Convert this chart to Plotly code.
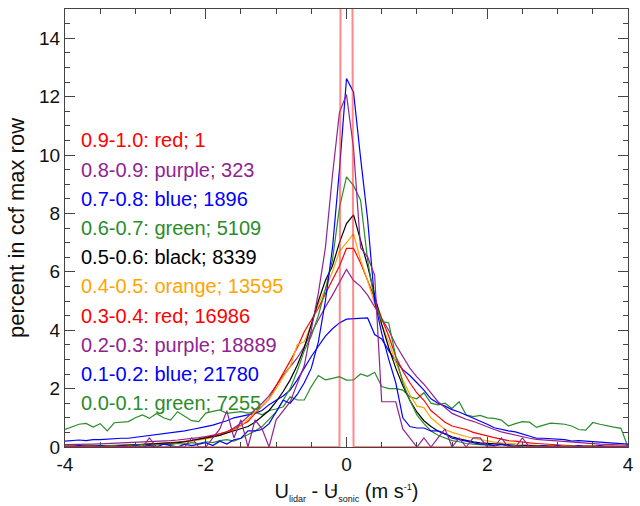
import plotly.graph_objects as go

# bin centres of U_lidar - U_sonic (m/s)
x_bins = [round(-4 + 0.1 * i, 1) for i in range(81)]

labels = ["0.0-0.1: green; 7255", "0.1-0.2: blue; 21780", "0.2-0.3: purple; 18889",
          "0.3-0.4: red; 16986", "0.4-0.5: orange; 13595", "0.5-0.6: black; 8339",
          "0.6-0.7: green; 5109", "0.7-0.8: blue; 1896", "0.8-0.9: purple; 323",
          "0.9-1.0: red; 1"]

g0 = [0.60,0.70,0.78,0.81,0.68,0.80,0.55,0.83,0.85,0.87,
      1.00,1.10,0.98,1.15,1.00,0.92,1.21,1.04,0.90,0.87,
      1.16,1.22,1.27,1.15,1.18,1.21,1.16,1.20,1.10,1.25,
      1.30,1.38,1.72,1.61,1.61,2.07,2.45,2.30,2.35,2.41,
      2.29,2.30,2.50,2.42,2.56,2.07,2.00,2.00,1.95,1.72,
      1.65,1.86,1.50,1.44,1.50,1.32,1.55,1.10,1.04,1.08,
      1.00,0.98,0.92,0.72,0.80,0.87,0.85,0.67,0.75,0.82,
      0.80,0.78,0.72,0.60,0.58,0.84,0.78,0.72,0.68,0.64,
      0.00]
b1 = [0.20,0.22,0.24,0.22,0.25,0.25,0.27,0.28,0.30,0.30,
      0.33,0.36,0.40,0.42,0.46,0.48,0.52,0.55,0.60,0.66,
      0.70,0.75,0.82,0.90,1.00,1.05,1.10,1.15,1.25,1.45,
      1.60,1.75,1.95,2.30,2.70,3.10,3.45,3.80,4.05,4.25,
      4.38,4.40,4.40,4.42,3.85,3.70,3.30,2.95,2.65,2.45,
      2.20,1.95,1.65,1.50,1.40,1.28,1.20,1.10,1.00,0.90,
      0.78,0.66,0.60,0.55,0.52,0.45,0.36,0.30,0.30,0.29,
      0.28,0.25,0.20,0.22,0.20,0.19,0.17,0.15,0.13,0.12,
      0.10]
p2 = [0.08,0.08,0.09,0.10,0.10,0.11,0.12,0.12,0.13,0.14,
      0.15,0.16,0.18,0.19,0.20,0.22,0.24,0.26,0.28,0.32,
      0.36,0.40,0.45,0.52,0.65,0.82,1.04,1.28,1.50,1.75,
      2.10,2.45,2.75,3.05,3.45,3.90,4.40,4.80,5.20,5.65,
      6.08,5.70,5.50,5.20,4.80,4.40,4.00,3.50,3.10,2.70,
      2.40,2.15,1.85,1.55,1.35,1.15,1.05,0.95,0.88,0.78,
      0.68,0.60,0.52,0.46,0.40,0.35,0.30,0.26,0.24,0.22,
      0.20,0.18,0.16,0.15,0.13,0.12,0.10,0.09,0.08,0.07,
      0.06]
r3 = [0.03,0.03,0.04,0.04,0.04,0.05,0.05,0.06,0.06,0.07,
      0.08,0.09,0.10,0.11,0.12,0.15,0.17,0.19,0.22,0.27,
      0.32,0.38,0.45,0.52,0.62,0.75,0.87,1.15,1.40,1.65,
      2.10,2.50,2.95,3.40,3.95,4.35,4.75,5.25,5.70,6.20,
      6.80,6.80,6.30,5.70,5.10,4.40,3.80,3.10,2.60,2.20,
      1.85,1.60,1.25,1.05,0.85,0.72,0.66,0.60,0.50,0.45,
      0.38,0.32,0.26,0.22,0.20,0.16,0.14,0.12,0.10,0.08,
      0.06,0.06,0.05,0.05,0.04,0.04,0.03,0.03,0.03,0.02,
      0.02]
o4 = [0.02,0.02,0.02,0.03,0.03,0.03,0.04,0.04,0.05,0.05,
      0.06,0.07,0.08,0.09,0.10,0.12,0.14,0.17,0.20,0.24,
      0.28,0.33,0.40,0.48,0.58,0.72,0.95,1.20,1.40,1.65,
      2.00,2.40,2.75,3.50,3.60,4.20,4.90,5.40,6.00,6.70,
      7.00,7.30,6.40,5.70,4.90,4.20,3.60,2.90,2.30,1.80,
      1.40,1.35,1.00,0.80,0.60,0.50,0.42,0.36,0.30,0.25,
      0.20,0.17,0.14,0.12,0.10,0.08,0.07,0.06,0.05,0.04,
      0.04,0.03,0.03,0.03,0.02,0.02,0.02,0.02,0.02,0.01,
      0.01]
k5 = [0.02,0.02,0.02,0.03,0.03,0.03,0.04,0.04,0.05,0.06,
      0.07,0.08,0.09,0.10,0.11,0.13,0.15,0.18,0.22,0.26,
      0.30,0.35,0.40,0.48,0.55,0.62,0.70,0.85,1.05,1.25,
      1.55,1.90,2.30,2.80,3.40,4.20,5.00,5.70,6.20,7.00,
      7.65,7.95,7.10,6.20,5.20,4.20,3.40,2.70,2.10,1.60,
      1.20,0.90,0.70,0.55,0.45,0.35,0.28,0.22,0.18,0.14,
      0.12,0.10,0.08,0.07,0.06,0.05,0.04,0.04,0.03,0.03,
      0.02,0.02,0.02,0.02,0.02,0.01,0.01,0.01,0.01,0.01,
      0.01]
g6 = [0.00,0.02,0.00,0.03,0.02,0.00,0.03,0.05,0.02,0.04,
      0.05,0.08,0.04,0.06,0.10,0.08,0.12,0.10,0.15,0.12,
      0.18,0.15,0.22,0.25,0.20,0.30,0.42,0.55,0.70,0.95,
      1.20,1.60,2.00,2.60,3.30,3.80,4.50,5.40,6.40,8.20,
      9.25,8.95,8.45,6.40,5.00,4.30,4.25,3.10,2.20,1.60,
      1.10,0.80,0.55,0.40,0.30,0.22,0.18,0.12,0.10,0.08,
      0.06,0.05,0.08,0.04,0.03,0.05,0.02,0.03,0.02,0.00,
      0.02,0.00,0.03,0.00,0.02,0.00,0.00,0.02,0.00,0.00,
      0.00]
b7 = [0.00,0.00,0.05,0.00,0.00,0.05,0.00,0.00,0.05,0.00,
      0.05,0.00,0.05,0.00,0.10,0.05,0.00,0.10,0.05,0.10,
      0.15,0.05,0.20,0.10,0.25,0.30,0.55,0.55,0.60,0.80,
      1.20,1.60,1.50,1.80,2.20,2.70,3.60,5.00,6.80,9.50,
      12.62,12.15,9.90,7.80,5.00,3.90,3.00,2.20,1.00,0.70,
      0.65,0.65,0.55,0.55,0.45,0.30,0.25,0.20,0.15,0.10,
      0.10,0.05,0.10,0.05,0.00,0.05,0.05,0.00,0.05,0.00,
      0.05,0.00,0.00,0.05,0.00,0.00,0.05,0.00,0.00,0.00,
      0.00]
p8 = [0,0,0,0,0,0,0,0,0,0,
      0,0,0.31,0,0,0,0,0,0.31,0,
      0,0.31,0.62,1.24,0.31,0.93,0,0.93,0.62,0,
      0.93,1.24,1.55,2.17,2.79,4.03,5.27,6.82,9.30,11.46,
      12.07,10.23,6.82,6.51,5.89,1.55,1.55,1.55,0.62,0.31,
      0,0.31,0,0.31,0.62,0,0.31,0,0.31,0.31,
      0,0,0.31,0,0,0.31,0,0,0,0,
      0,0,0,0,0,0,0,0,0,0,
      0]
r9 = [0.0] * 40 + [100.0] + [0.0] * 40

series = [g0, b1, p2, r3, o4, k5, g6, b7, p8, r9]
colors = ["#2a8c2a", "#0000ff", "#8f2491", "#ff0000", "#ffa500", "#000000",
          "#2a8c2a", "#0000ff", "#8f2491", "#ff0000"]

label_y = [1.5, 2.5, 3.5, 4.5, 5.5, 6.5, 7.5, 8.5, 9.5, 10.5]

FONT = "Liberation Sans, Arial, Helvetica, sans-serif"

fig = go.Figure()
for i, (vals, col) in enumerate(zip(series, colors)):
    if i == 9:
        fig.add_trace(go.Scatter(x=x_bins, y=vals, mode="lines",
                                 line=dict(color="rgba(255,40,40,0.55)", width=2)))
    else:
        fig.add_trace(go.Scatter(x=x_bins, y=vals, mode="lines",
                                 line=dict(color=col, width=1.2)))

for lab, col, yy in zip(labels, colors, label_y):
    fig.add_annotation(x=-3.8, y=yy, text=lab, showarrow=False, xanchor="left",
                       yanchor="middle", font=dict(family=FONT, size=20, color=col))

x_tickvals = [-4, -2, 0, 2, 4]
x_ticktext = ["-4", "-2", "0", "2", "4"]
y_tickvals = [0, 2, 4, 6, 8, 10, 12, 14]
y_ticktext = ["0", "2", "4", "6", "8", "10", "12", "14"]

axis_common = dict(showline=True, linecolor="#444", linewidth=1, mirror="ticks",
                   ticks="inside", ticklen=10, tickwidth=1, tickcolor="#444",
                   showgrid=False, zeroline=False,
                   tickfont=dict(family=FONT, size=19, color="#111"))

xtitle = ("U<sub><span style='font-size:9px'>lidar</span></sub> - "
          "U<sub><span style='font-size:9px'>sonic</span></sub> "
          "(m s<sup><span style='font-size:9px'>-1</span></sup>)")

fig.update_xaxes(range=[-4, 4], tickmode="array", tickvals=x_tickvals, ticktext=x_ticktext,
                 minor=dict(tick0=0, dtick=0.5, ticks="inside", ticklen=5, tickcolor="#444"),
                 title=dict(text=xtitle, font=dict(family=FONT, size=20, color="#111"),
                            standoff=10),
                 **axis_common)
fig.update_yaxes(range=[0, 15], tickmode="array", tickvals=y_tickvals, ticktext=y_ticktext,
                 minor=dict(tick0=0, dtick=0.5, ticks="inside", ticklen=5, tickcolor="#444"),
                 title=dict(text="percent in ccf max row",
                            font=dict(family=FONT, size=22, color="#111"), standoff=8),
                 **axis_common)

# small overbar above the second U of the x title (drawn as a line, not text)
fig.add_shape(type="line", xref="paper", yref="paper",
              x0=(334 - 65) / 569, x1=(339 - 65) / 569,
              y0=-(490 - 447) / 438, y1=-(490 - 447) / 438,
              line=dict(color="#111", width=1))

fig.update_layout(width=640, height=506, margin=dict(l=65, r=6, t=9, b=59),
                  plot_bgcolor="white", paper_bgcolor="white", showlegend=False)

fig.write_html("out.html")
